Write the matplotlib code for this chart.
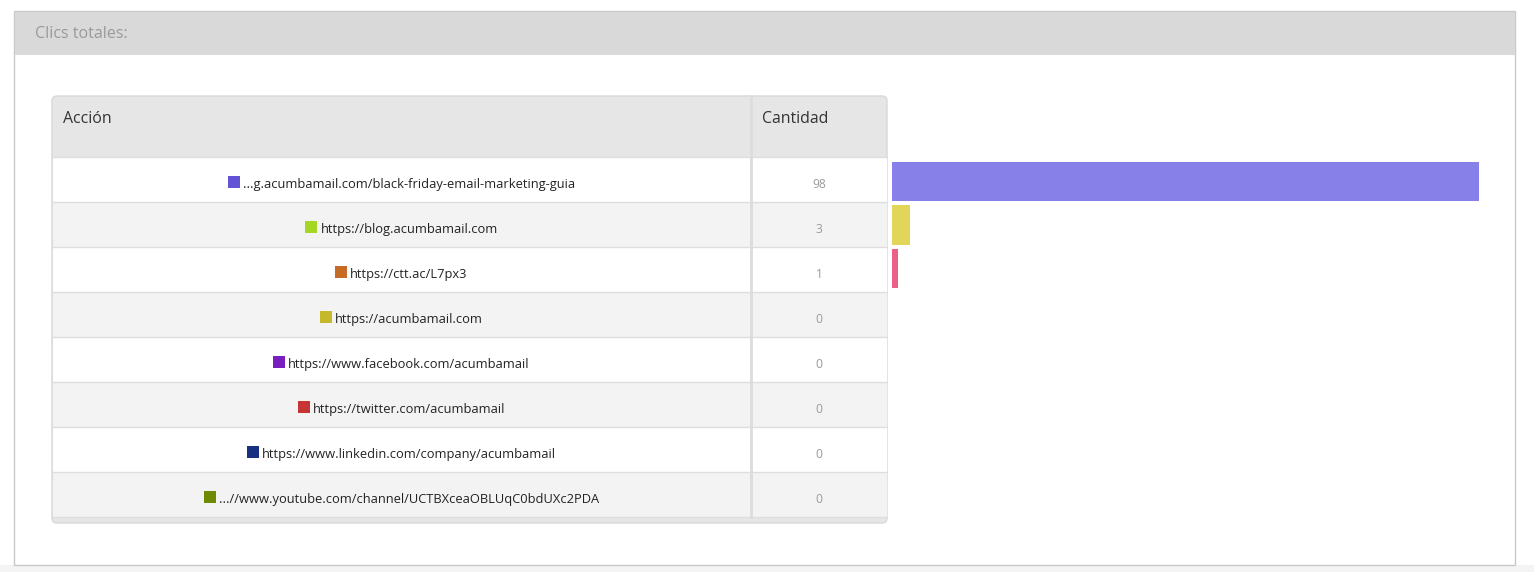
import matplotlib
matplotlib.use("Agg")
import matplotlib.pyplot as plt
from matplotlib.patches import Rectangle, FancyBboxPatch

plt.rcParams['font.family'] = ['Open Sans', 'DejaVu Sans']

# data
urls = [
    "...g.acumbamail.com/black-friday-email-marketing-guia",
    "https://blog.acumbamail.com",
    "https://ctt.ac/L7px3",
    "https://acumbamail.com",
    "https://www.facebook.com/acumbamail",
    "https://twitter.com/acumbamail",
    "https://www.linkedin.com/company/acumbamail",
    "...//www.youtube.com/channel/UCTBXceaOBLUqC0bdUXc2PDA",
]
clicks = [98, 3, 1, 0, 0, 0, 0, 0]
square_colors = ["#6153d3", "#a5d623", "#c66a25", "#c3b92a",
                 "#7a1fbf", "#c63434", "#17307f", "#6e8a00"]
bar_colors = ["#8780e8", "#e2d65a", "#ec5f87", "#8780e8",
              "#8780e8", "#8780e8", "#8780e8", "#8780e8"]

W, H = 1534, 572
fig = plt.figure(figsize=(W / 100, H / 100), dpi=100)
fig.patch.set_facecolor("white")

# background axes in pixel coordinates
ax = fig.add_axes([0, 0, 1, 1])
ax.set_xlim(0, W)
ax.set_ylim(H, 0)
ax.axis("off")

# bottom strip and outer panel
ax.add_patch(Rectangle((0, 565), W, 7, facecolor="#f4f4f4", edgecolor="none"))
ax.add_patch(Rectangle((14, 11), 1501, 554, facecolor="white", edgecolor="#c9c9c9", lw=1))
ax.add_patch(Rectangle((14.5, 11.5), 1500, 43, facecolor="#d9d9d9", edgecolor="none"))
ax.text(35, 34, "Clics totales:", fontsize=11.5, color="#9a9a9a", va="center", ha="left")

# table
tx0, tx1, csep = 52, 887, 751
ty0, thead, row_h = 96, 157, 45
n = len(urls)
tbot = thead + row_h * n

ax.add_patch(FancyBboxPatch((tx0, ty0), tx1 - tx0, tbot + 6 - ty0,
                            boxstyle="round,pad=0,rounding_size=5",
                            facecolor="#e6e6e6", edgecolor="#d8d8d8", lw=1))
ax.text(63, 119, "Acción", fontsize=11.4, color="#333333", va="center", ha="left")
ax.text(762, 119, "Cantidad", fontsize=11.4, color="#333333", va="center", ha="left")

renderer = fig.canvas.get_renderer()
for i, (url, c, sc) in enumerate(zip(urls, clicks, square_colors)):
    y = thead + i * row_h
    bg = "white" if i % 2 == 0 else "#f3f3f3"
    ax.add_patch(Rectangle((tx0 + 0.5, y), tx1 - tx0 - 1, row_h,
                           facecolor=bg, edgecolor="none"))
    ax.plot([tx0, tx1], [y, y], color="#dedede", lw=1)
    yc = y + 27.5
    t = ax.text(0, yc, url, fontsize=9.3, color="#222222", va="center", ha="left")
    bb = t.get_window_extent(renderer)
    tw = bb.width
    group = 12 + 3 + tw
    left = (tx0 + csep) / 2 - group / 2
    t.set_x(left + 15)
    ax.add_patch(Rectangle((left, yc - 8.5), 12, 12, facecolor=sc, edgecolor="none"))
    ax.text((csep + tx1) / 2, yc, str(c), fontsize=8.7, color="#9a9a9a",
            va="center", ha="center")

ax.plot([tx0, tx1], [tbot, tbot], color="#dedede", lw=1)
ax.plot([csep, csep], [ty0, tbot], color="#dcdcdc", lw=2)

# bars
pitch = 43.5
top = 181.5 - pitch / 2
bar_ax = fig.add_axes([892 / W, 1 - (top + pitch * n) / H, 587 / W, pitch * n / H])
bar_ax.barh(range(n), clicks, height=0.9, color=bar_colors)
bar_ax.set_xlim(0, 98)
bar_ax.set_ylim(n - 0.5, -0.5)
bar_ax.axis("off")

fig.savefig("out.png", dpi=100)
